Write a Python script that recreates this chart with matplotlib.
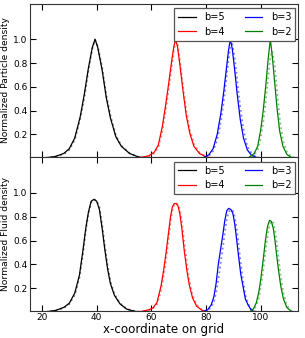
import numpy as np
import matplotlib
matplotlib.use('Agg')
import matplotlib.pyplot as plt

# Labels
labels = ['b=5', 'b=4', 'b=3', 'b=2']
cores = ['k', 'r', 'b', 'g']

# Top panel: particle density (solid and dotted curves, same x grid per curve)
xp5 = [18, 22, 25, 28, 30, 32, 34, 35.5, 37, 38.4, 39.4, 40.4, 42, 43.5, 45, 47, 49, 52, 55, 58]
yp5 = [0, 0.005, 0.015, 0.04, 0.08, 0.17, 0.35, 0.54, 0.76, 0.93, 1.0, 0.93, 0.74, 0.51, 0.34, 0.18, 0.10, 0.04, 0.012, 0]
yp5d = [0, 0.004, 0.013, 0.035, 0.07, 0.155, 0.33, 0.51, 0.74, 0.92, 0.995, 0.94, 0.76, 0.53, 0.36, 0.19, 0.105, 0.042, 0.013, 0]

xp4 = [52, 56, 59, 61, 62.5, 64, 65.2, 66.3, 67.4, 68.2, 68.8, 69.5, 70.4, 71.5, 72.7, 74, 75.5, 77.5, 80, 83]
yp4 = [0, 0.005, 0.02, 0.05, 0.11, 0.27, 0.45, 0.63, 0.82, 0.94, 1.0, 0.94, 0.78, 0.57, 0.36, 0.21, 0.10, 0.04, 0.01, 0]
yp4d = [0, 0.004, 0.016, 0.04, 0.09, 0.23, 0.40, 0.58, 0.77, 0.91, 0.98, 0.96, 0.82, 0.61, 0.40, 0.24, 0.12, 0.05, 0.012, 0]

xp3 = [76, 79, 81, 82.5, 84, 85.3, 86.4, 87.3, 88.1, 88.8, 89.5, 90.3, 91.3, 92.4, 93.6, 95, 96.5, 98.5, 101]
yp3 = [0, 0.005, 0.03, 0.08, 0.20, 0.37, 0.56, 0.74, 0.90, 1.0, 0.92, 0.76, 0.54, 0.33, 0.17, 0.07, 0.025, 0.005, 0]
yp3d = [0, 0.003, 0.02, 0.06, 0.15, 0.30, 0.48, 0.66, 0.82, 0.93, 0.96, 0.86, 0.66, 0.43, 0.24, 0.10, 0.04, 0.008, 0]

xp2 = [93, 95.5, 97.5, 98.8, 99.9, 100.8, 101.7, 102.6, 103.4, 104.1, 104.9, 105.8, 106.8, 108, 109.5, 111, 113]
yp2 = [0, 0.005, 0.04, 0.10, 0.24, 0.40, 0.60, 0.83, 1.0, 0.86, 0.66, 0.43, 0.23, 0.10, 0.03, 0.008, 0]
yp2d = [0, 0.003, 0.025, 0.07, 0.17, 0.30, 0.47, 0.68, 0.85, 0.90, 0.80, 0.58, 0.34, 0.15, 0.05, 0.012, 0]

# Bottom panel: fluid density
xf5 = [18, 22, 25, 28, 30, 32, 33.7, 35, 36, 37, 38, 39, 40, 41, 42, 43, 44, 45, 46.5, 48.5, 51, 54, 58]
yf5 = [0, 0.005, 0.015, 0.04, 0.075, 0.16, 0.31, 0.52, 0.70, 0.84, 0.93, 0.945, 0.93, 0.86, 0.70, 0.52, 0.36, 0.24, 0.14, 0.07, 0.025, 0.007, 0]
yf5d = [0, 0.004, 0.013, 0.035, 0.068, 0.145, 0.29, 0.49, 0.68, 0.83, 0.92, 0.945, 0.935, 0.88, 0.73, 0.55, 0.39, 0.26, 0.15, 0.075, 0.027, 0.008, 0]

xf4 = [52, 56, 59, 60.5, 62, 63.5, 64.5, 65.4, 66.2, 66.9, 67.6, 68.3, 69, 69.7, 70.4, 71.1, 72, 73, 73.8, 75, 76.5, 78.5, 81, 84]
yf4 = [0, 0.005, 0.02, 0.035, 0.08, 0.22, 0.36, 0.51, 0.66, 0.79, 0.88, 0.91, 0.91, 0.89, 0.82, 0.70, 0.51, 0.34, 0.23, 0.12, 0.05, 0.015, 0.003, 0]
yf4d = [0, 0.004, 0.016, 0.03, 0.065, 0.18, 0.31, 0.45, 0.60, 0.74, 0.85, 0.90, 0.915, 0.905, 0.86, 0.76, 0.58, 0.40, 0.27, 0.14, 0.06, 0.018, 0.004, 0]

xf3 = [76, 79, 80.5, 81.8, 82.8, 83.6, 84.4, 85.2, 86, 86.8, 87.5, 88.2, 89, 89.7, 90.4, 91.1, 91.8, 92.6, 93.4, 94.3, 95.3, 96.5, 98, 100]
yf3 = [0, 0.005, 0.02, 0.06, 0.13, 0.24, 0.40, 0.52, 0.64, 0.77, 0.85, 0.87, 0.86, 0.83, 0.74, 0.61, 0.47, 0.32, 0.22, 0.11, 0.06, 0.015, 0.003, 0]
yf3d = [0, 0.003, 0.014, 0.04, 0.09, 0.16, 0.27, 0.40, 0.53, 0.67, 0.78, 0.84, 0.86, 0.85, 0.80, 0.70, 0.57, 0.41, 0.27, 0.14, 0.07, 0.022, 0.005, 0]

xf2 = [93, 96, 97.3, 98.3, 99.2, 100, 100.8, 101.6, 102.4, 103.1, 103.8, 104.5, 105.1, 105.7, 106.4, 107.2, 108.2, 109.4, 111, 113]
yf2 = [0, 0.005, 0.03, 0.08, 0.17, 0.29, 0.44, 0.60, 0.72, 0.77, 0.76, 0.70, 0.60, 0.48, 0.35, 0.22, 0.11, 0.04, 0.008, 0]
yf2d = [0, 0.003, 0.02, 0.055, 0.12, 0.22, 0.35, 0.50, 0.64, 0.73, 0.765, 0.75, 0.69, 0.59, 0.45, 0.30, 0.16, 0.06, 0.012, 0]

particula = [(xp5, yp5, yp5d), (xp4, yp4, yp4d), (xp3, yp3, yp3d), (xp2, yp2, yp2d)]
fluido = [(xf5, yf5, yf5d), (xf4, yf4, yf4d), (xf3, yf3, yf3d), (xf2, yf2, yf2d)]

fig = plt.figure(figsize=(3.05, 3.38), dpi=100)
ax1 = fig.add_axes([0.097, 0.5355, 0.880, 0.4541])
ax2 = fig.add_axes([0.097, 0.0799, 0.880, 0.4556], sharex=ax1)


def painel(ax, dados, ylabel):
    for (x, y, yd), c, lab in zip(dados, cores, labels):
        ax.plot(x, yd, linestyle=':', color=c, alpha=0.5, linewidth=1.3)
        ax.plot(x, y, linestyle='-', color=c, linewidth=0.9, label=lab)
    ax.set_xlim(15.5, 113.5)
    ax.set_ylim(0.01, 1.3)
    ax.set_yticks([0.2, 0.4, 0.6, 0.8, 1.0])
    ax.set_xticks([20, 40, 60, 80, 100])
    ax.tick_params(direction='in', top=True, right=True, length=4.5,
                   width=0.8, labelsize=6.5, pad=1.5)
    ax.set_ylabel(ylabel, fontsize=6.6, labelpad=2)
    leg = ax.legend(loc='upper right', bbox_to_anchor=(0.99, 0.97), ncol=2,
                    fontsize=7, fancybox=False, handlelength=1.8,
                    columnspacing=2.0, labelspacing=0.5, borderaxespad=0,
                    borderpad=0.4, handletextpad=0.9, framealpha=1)
    leg.get_frame().set_edgecolor('#555555')
    leg.get_frame().set_linewidth(0.9)
    for s in ax.spines.values():
        s.set_linewidth(0.8)
        s.set_color('#333333')


painel(ax1, particula, 'Normalized Particle density')
painel(ax2, fluido, 'Normalized Fluid density')
ax1.tick_params(labelbottom=False)
ax2.set_xlabel('x-coordinate on grid', fontsize=8.6, labelpad=1)

fig.savefig('out.png', dpi=100)
